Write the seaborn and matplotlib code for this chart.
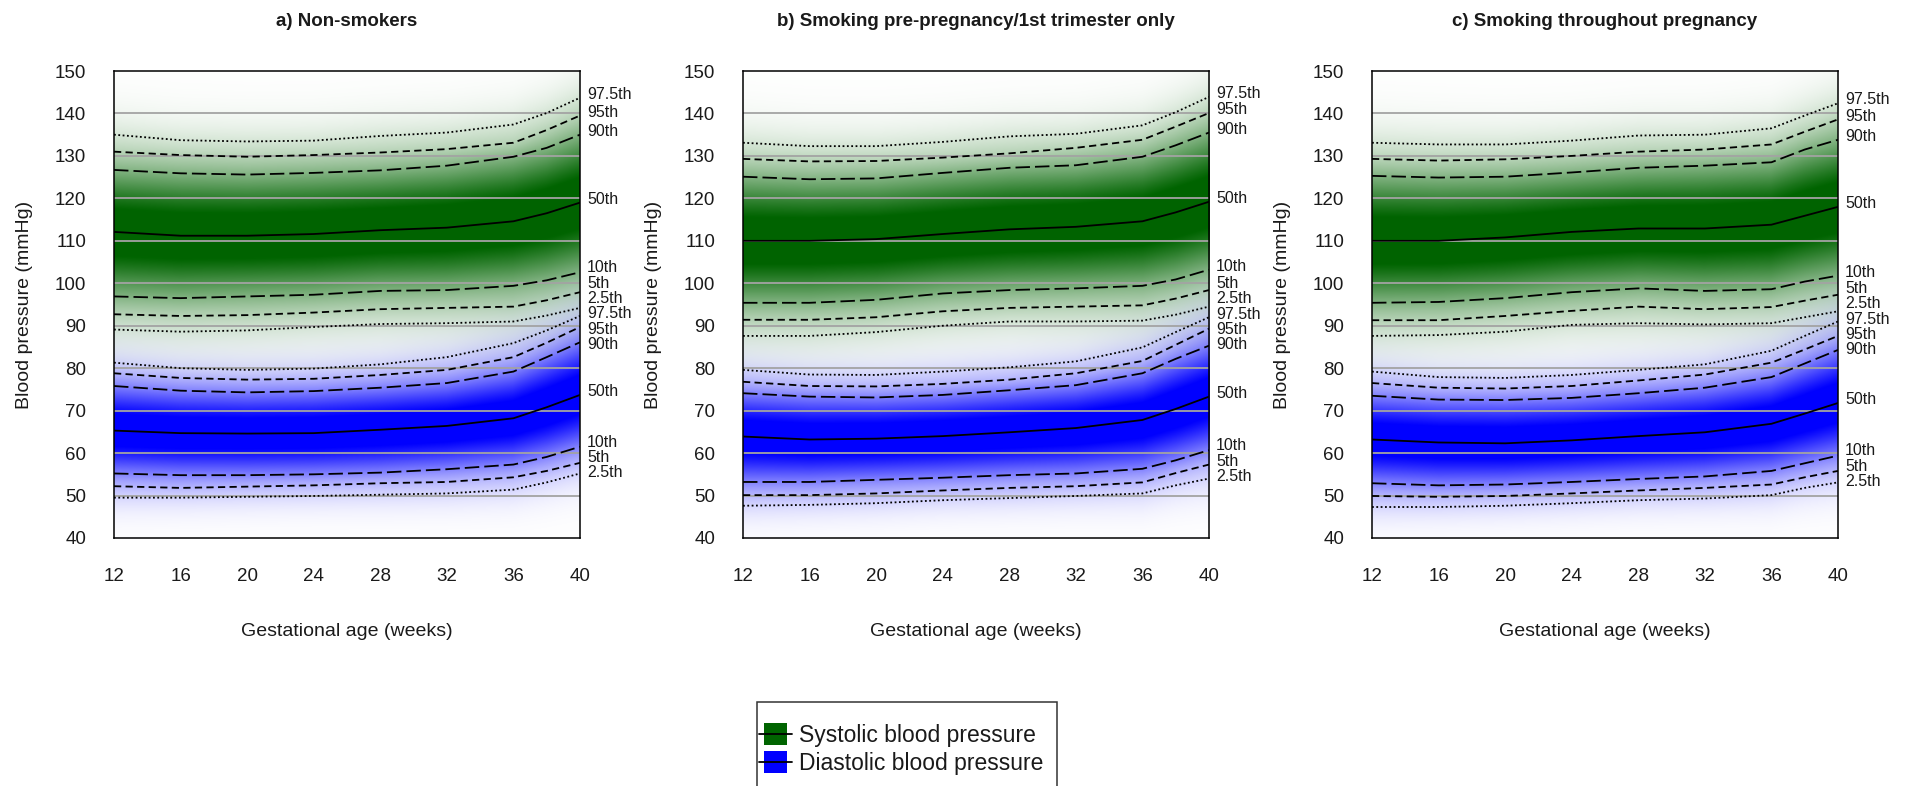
import numpy as np
import pandas as pd
import matplotlib
matplotlib.use("Agg")
import matplotlib.pyplot as plt
import seaborn as sns
from matplotlib.patches import Rectangle, Patch
from matplotlib.lines import Line2D
from matplotlib.legend_handler import HandlerBase

# ---------------- data ----------------
weeks = [12, 16, 20, 24, 28, 32, 36, 38, 40]
x_ticks = [12, 16, 20, 24, 28, 32, 36, 40]
y_ticks = [40, 50, 60, 70, 80, 90, 100, 110, 120, 130, 140, 150]
pct_labels = ["2.5th", "5th", "10th", "50th", "90th", "95th", "97.5th"]
pct_z = [-1.96, -1.645, -1.2816, 0.0, 1.2816, 1.645, 1.96]
panel_titles = ["a) Non-smokers",
                "b) Smoking pre-pregnancy/1st trimester only",
                "c) Smoking throughout pregnancy"]
measure_names = ["Systolic blood pressure", "Diastolic blood pressure"]

# a) Non-smokers
a_sbp_025 = [89.1, 88.6, 88.9, 89.7, 90.4, 90.6, 91.0, 92.4, 94.2]
a_sbp_05 = [92.7, 92.3, 92.5, 93.1, 93.9, 94.2, 94.5, 96.0, 97.9]
a_sbp_10 = [96.9, 96.5, 96.9, 97.3, 98.2, 98.4, 99.4, 100.7, 102.6]
a_sbp_50 = [112.1, 111.2, 111.2, 111.6, 112.5, 113.1, 114.6, 116.5, 119.0]
a_sbp_90 = [126.7, 125.9, 125.6, 126.0, 126.6, 127.7, 129.8, 131.9, 135.0]
a_sbp_95 = [131.0, 130.2, 129.8, 130.2, 130.8, 131.6, 133.1, 136.1, 139.5]
a_sbp_975 = [135.0, 133.7, 133.4, 133.6, 134.7, 135.5, 137.4, 140.1, 143.7]
a_dbp_025 = [49.5, 49.5, 49.7, 49.9, 50.2, 50.5, 51.4, 53.1, 55.2]
a_dbp_05 = [52.2, 51.8, 52.1, 52.4, 52.9, 53.2, 54.3, 55.8, 57.7]
a_dbp_10 = [55.2, 54.8, 54.8, 55.0, 55.4, 56.2, 57.3, 59.1, 61.5]
a_dbp_50 = [65.3, 64.7, 64.6, 64.7, 65.5, 66.4, 68.2, 70.8, 73.7]
a_dbp_90 = [75.8, 74.7, 74.3, 74.6, 75.4, 76.5, 79.2, 82.6, 86.1]
a_dbp_95 = [78.8, 77.7, 77.3, 77.5, 78.4, 79.6, 82.6, 86.0, 89.7]
a_dbp_975 = [81.3, 80.0, 79.6, 79.9, 80.9, 82.6, 85.9, 88.9, 92.3]

# b) Smoking pre-pregnancy / 1st trimester only
b_sbp_025 = [87.6, 87.6, 88.5, 90.0, 91.0, 91.0, 91.2, 92.6, 94.5]
b_sbp_05 = [91.4, 91.4, 92.0, 93.4, 94.2, 94.5, 94.8, 96.4, 98.4]
b_sbp_10 = [95.4, 95.4, 96.1, 97.6, 98.4, 98.8, 99.4, 100.9, 103.2]
b_sbp_50 = [110.0, 110.0, 110.4, 111.6, 112.7, 113.3, 114.6, 116.7, 119.2]
b_sbp_90 = [125.1, 124.5, 124.7, 126.0, 127.2, 127.8, 129.8, 132.5, 135.5]
b_sbp_95 = [129.3, 128.7, 128.8, 129.6, 130.6, 131.9, 133.8, 136.9, 140.1]
b_sbp_975 = [133.1, 132.3, 132.3, 133.3, 134.6, 135.2, 137.2, 140.3, 143.9]
b_dbp_025 = [47.6, 47.8, 48.2, 48.9, 49.4, 49.9, 50.5, 52.4, 54.0]
b_dbp_05 = [50.1, 50.1, 50.5, 51.2, 51.8, 52.2, 53.1, 55.3, 57.3]
b_dbp_10 = [53.2, 53.2, 53.7, 54.2, 54.8, 55.2, 56.3, 58.3, 60.7]
b_dbp_50 = [63.9, 63.2, 63.4, 64.0, 64.9, 65.9, 67.8, 70.4, 73.3]
b_dbp_90 = [74.1, 73.3, 73.1, 73.7, 74.8, 76.0, 78.8, 82.2, 85.3]
b_dbp_95 = [76.8, 75.8, 75.7, 76.3, 77.3, 78.8, 81.7, 85.5, 89.3]
b_dbp_975 = [79.6, 78.5, 78.4, 79.2, 80.2, 81.6, 84.9, 88.5, 92.0]

# c) Smoking throughout pregnancy
c_sbp_025 = [87.6, 87.8, 88.6, 90.2, 90.6, 90.3, 90.6, 92.0, 93.4]
c_sbp_05 = [91.3, 91.3, 92.3, 93.5, 94.5, 93.9, 94.4, 95.9, 97.3]
c_sbp_10 = [95.4, 95.6, 96.5, 97.9, 98.8, 98.2, 98.6, 100.4, 101.8]
c_sbp_50 = [110.0, 110.0, 110.8, 112.1, 112.9, 112.9, 113.8, 115.9, 118.0]
c_sbp_90 = [125.3, 124.9, 125.1, 126.1, 127.2, 127.7, 128.5, 131.5, 133.8]
c_sbp_95 = [129.3, 128.9, 129.2, 130.0, 131.0, 131.5, 132.7, 135.7, 138.6]
c_sbp_975 = [133.1, 132.7, 132.7, 133.6, 134.8, 135.0, 136.5, 139.5, 142.4]
c_dbp_025 = [47.3, 47.3, 47.6, 48.2, 48.9, 49.3, 50.1, 51.8, 53.1]
c_dbp_05 = [49.9, 49.7, 49.9, 50.5, 51.2, 51.8, 52.6, 54.3, 55.8]
c_dbp_10 = [52.9, 52.4, 52.6, 53.2, 53.9, 54.5, 55.8, 57.6, 59.4]
c_dbp_50 = [63.2, 62.5, 62.3, 63.0, 64.0, 64.9, 66.9, 69.3, 71.8]
c_dbp_90 = [73.5, 72.6, 72.5, 73.0, 74.1, 75.4, 77.9, 81.1, 84.3]
c_dbp_95 = [76.5, 75.4, 75.2, 75.8, 77.1, 78.5, 81.3, 84.4, 87.6]
c_dbp_975 = [79.2, 77.9, 77.7, 78.4, 79.6, 80.9, 84.1, 87.6, 91.0]

panels = [
    [[a_sbp_025, a_sbp_05, a_sbp_10, a_sbp_50, a_sbp_90, a_sbp_95, a_sbp_975],
     [a_dbp_025, a_dbp_05, a_dbp_10, a_dbp_50, a_dbp_90, a_dbp_95, a_dbp_975]],
    [[b_sbp_025, b_sbp_05, b_sbp_10, b_sbp_50, b_sbp_90, b_sbp_95, b_sbp_975],
     [b_dbp_025, b_dbp_05, b_dbp_10, b_dbp_50, b_dbp_90, b_dbp_95, b_dbp_975]],
    [[c_sbp_025, c_sbp_05, c_sbp_10, c_sbp_50, c_sbp_90, c_sbp_95, c_sbp_975],
     [c_dbp_025, c_dbp_05, c_dbp_10, c_dbp_50, c_dbp_90, c_dbp_95, c_dbp_975]],
]

# ---------------- style ----------------
sns.set_style("white")
plt.rcParams["font.family"] = ["Liberation Sans", "DejaVu Sans"]
TXT = "#1a1a1a"
measure_colors = [np.array([0.0, 100 / 255, 0.0]), np.array([0.0, 0.0, 1.0])]
line_styles = {"2.5th": (0, (1.0, 1.4)), "5th": (0, (4, 2.4)), "10th": (0, (8, 2.8)),
               "50th": "-", "90th": (0, (8, 2.8)), "95th": (0, (4, 2.4)),
               "97.5th": (0, (1.0, 1.4))}
ALPHA_GAIN = 1.12

W, H = 1908, 786
fig = plt.figure(figsize=(W / 100, H / 100), dpi=100)
ax_lefts = [114, 743, 1372]
ax_w, ax_top, ax_bot = 466, 71, 538
ax_h = ax_bot - ax_top


def alpha_field(pcts, xg, yg):
    """density-like opacity from the percentile curves of one measure"""
    P = np.array([np.interp(xg, weeks, p) for p in pcts])  # 7 x nx
    A = np.zeros((len(yg), len(xg)))
    z_arr = np.array(pct_z)
    for j in range(len(xg)):
        pv = P[:, j]
        z = np.interp(yg, pv, z_arr)
        sd_up = (pv[-1] - pv[3]) / 1.96
        sd_lo = (pv[3] - pv[0]) / 1.96
        hi = yg > pv[-1]
        lo = yg < pv[0]
        z[hi] = 1.96 + (yg[hi] - pv[-1]) / sd_up
        z[lo] = -1.96 - (pv[0] - yg[lo]) / sd_lo
        A[:, j] = np.clip(ALPHA_GAIN * np.exp(-z ** 2 / 2), 0, 1)
    return A


def spread_labels(targets, gap):
    order = np.argsort(targets)[::-1]
    t = [targets[i] for i in order]
    clusters = []

    def top(cl):
        return np.mean([t[m] + k * gap for k, m in enumerate(cl)])

    for i in range(len(t)):
        clusters.append([i])
        while len(clusters) > 1:
            prev, cur = clusters[-2], clusters[-1]
            prev_bottom = top(prev) - (len(prev) - 1) * gap
            if top(cur) > prev_bottom - gap:
                clusters[-2:] = [prev + cur]
            else:
                break
    pos = [0.0] * len(t)
    for cl in clusters:
        T = top(cl)
        for k, m in enumerate(cl):
            pos[m] = T - k * gap
    out = [0.0] * len(targets)
    for rank, i in enumerate(order):
        out[i] = pos[rank]
    return out


xg = np.linspace(12, 40, 420)
yg = np.linspace(40, 150, 660)

for pi, (title, meas) in enumerate(zip(panel_titles, panels)):
    ax = fig.add_axes([ax_lefts[pi] / W, 1 - ax_bot / H, ax_w / W, ax_h / H])

    # gradient background
    rgb = np.ones((len(yg), len(xg), 3))
    for mi, pcts in enumerate(meas):
        A = alpha_field(pcts, xg, yg)[..., None]
        rgb = rgb * (1 - A) + measure_colors[mi] * A
    ax.imshow(rgb, origin="lower", extent=[12, 40, 40, 150], aspect="auto",
              interpolation="bilinear", zorder=0)

    # grid lines
    for yv in y_ticks[1:-1]:
        ax.axhline(yv, color="#a3a3a3", lw=1.3, zorder=1)

    # percentile curves
    label_names, label_targets = [], []
    for mi, pcts in enumerate(meas):
        for lab, vals in zip(pct_labels, pcts):
            df = pd.DataFrame({"week": weeks, "bp": vals})
            sns.lineplot(data=df, x="week", y="bp", ax=ax, color="black",
                         lw=1.3, linestyle=line_styles[lab], zorder=3)
            label_names.append(lab)
            label_targets.append(vals[-1] + 0.8)

    label_pos = spread_labels(label_targets, 3.6)
    for lab, yv in zip(label_names, label_pos):
        ax.annotate(lab, xy=(1, yv), xycoords=("axes fraction", "data"),
                    xytext=(5, 0), textcoords="offset points", ha="left",
                    va="center", fontsize=11.5, color=TXT, annotation_clip=False)

    ax.set_xlim(12, 40)
    ax.set_ylim(40, 150)
    ax.set_xticks(x_ticks)
    ax.set_yticks(y_ticks)
    ax.set_xlabel("")
    ax.set_ylabel("")
    ax.tick_params(axis="both", direction="out", length=9.4, width=1.1,
                   colors="black", labelcolor=TXT, labelsize=13.5)
    ax.tick_params(axis="x", pad=12)
    ax.tick_params(axis="y", pad=10.5)
    for s in ax.spines.values():
        s.set_visible(True)
        s.set_color("black")
        s.set_linewidth(1.1)
        s.set_zorder(5)

    ax.text(0.5, 1 + 50 / ax_h, title, transform=ax.transAxes, ha="center",
            va="center", fontsize=13.5, fontweight="bold", color=TXT)
    ax.text(0.5, -94 / ax_h, "Gestational age (weeks)", transform=ax.transAxes,
            ha="center", va="center", fontsize=14, color=TXT)
    ax.text(-89 / ax_w, 0.5, "Blood pressure (mmHg)", transform=ax.transAxes,
            ha="center", va="center", rotation=90, fontsize=14, color=TXT)


# ---------------- legend ----------------
class PatchLineHandler(HandlerBase):
    def create_artists(self, legend, orig_handle, xdescent, ydescent, width,
                       height, fontsize, trans):
        pw = width * 0.7
        ph = height * 1.08
        x0 = -xdescent + (width - pw) / 2
        y0 = -ydescent + (height - ph) / 2
        rect = Rectangle((x0, y0), pw, ph, facecolor=orig_handle.get_facecolor(),
                         edgecolor="none", transform=trans)
        ln = Line2D([-xdescent, -xdescent + width],
                    [-ydescent + height / 2] * 2, color="black", lw=1.3,
                    transform=trans)
        return [rect, ln]


handles = [Patch(facecolor=c) for c in measure_colors]
fig.legend(handles, measure_names, handler_map={Patch: PatchLineHandler()},
           loc="upper left", bbox_to_anchor=(759 / W, 1 - 724 / H),
           frameon=False, fontsize=16.5, handlelength=1.45, handleheight=1.0,
           handletextpad=0.3, labelspacing=0.22, borderpad=0, borderaxespad=0,
           labelcolor=TXT)
fig.add_artist(Rectangle((757 / W, -0.05), 300 / W, (786 - 702) / H + 0.05,
                         transform=fig.transFigure, facecolor="none",
                         edgecolor="#333333", lw=1.1))

fig.savefig("out.png", dpi=100)
